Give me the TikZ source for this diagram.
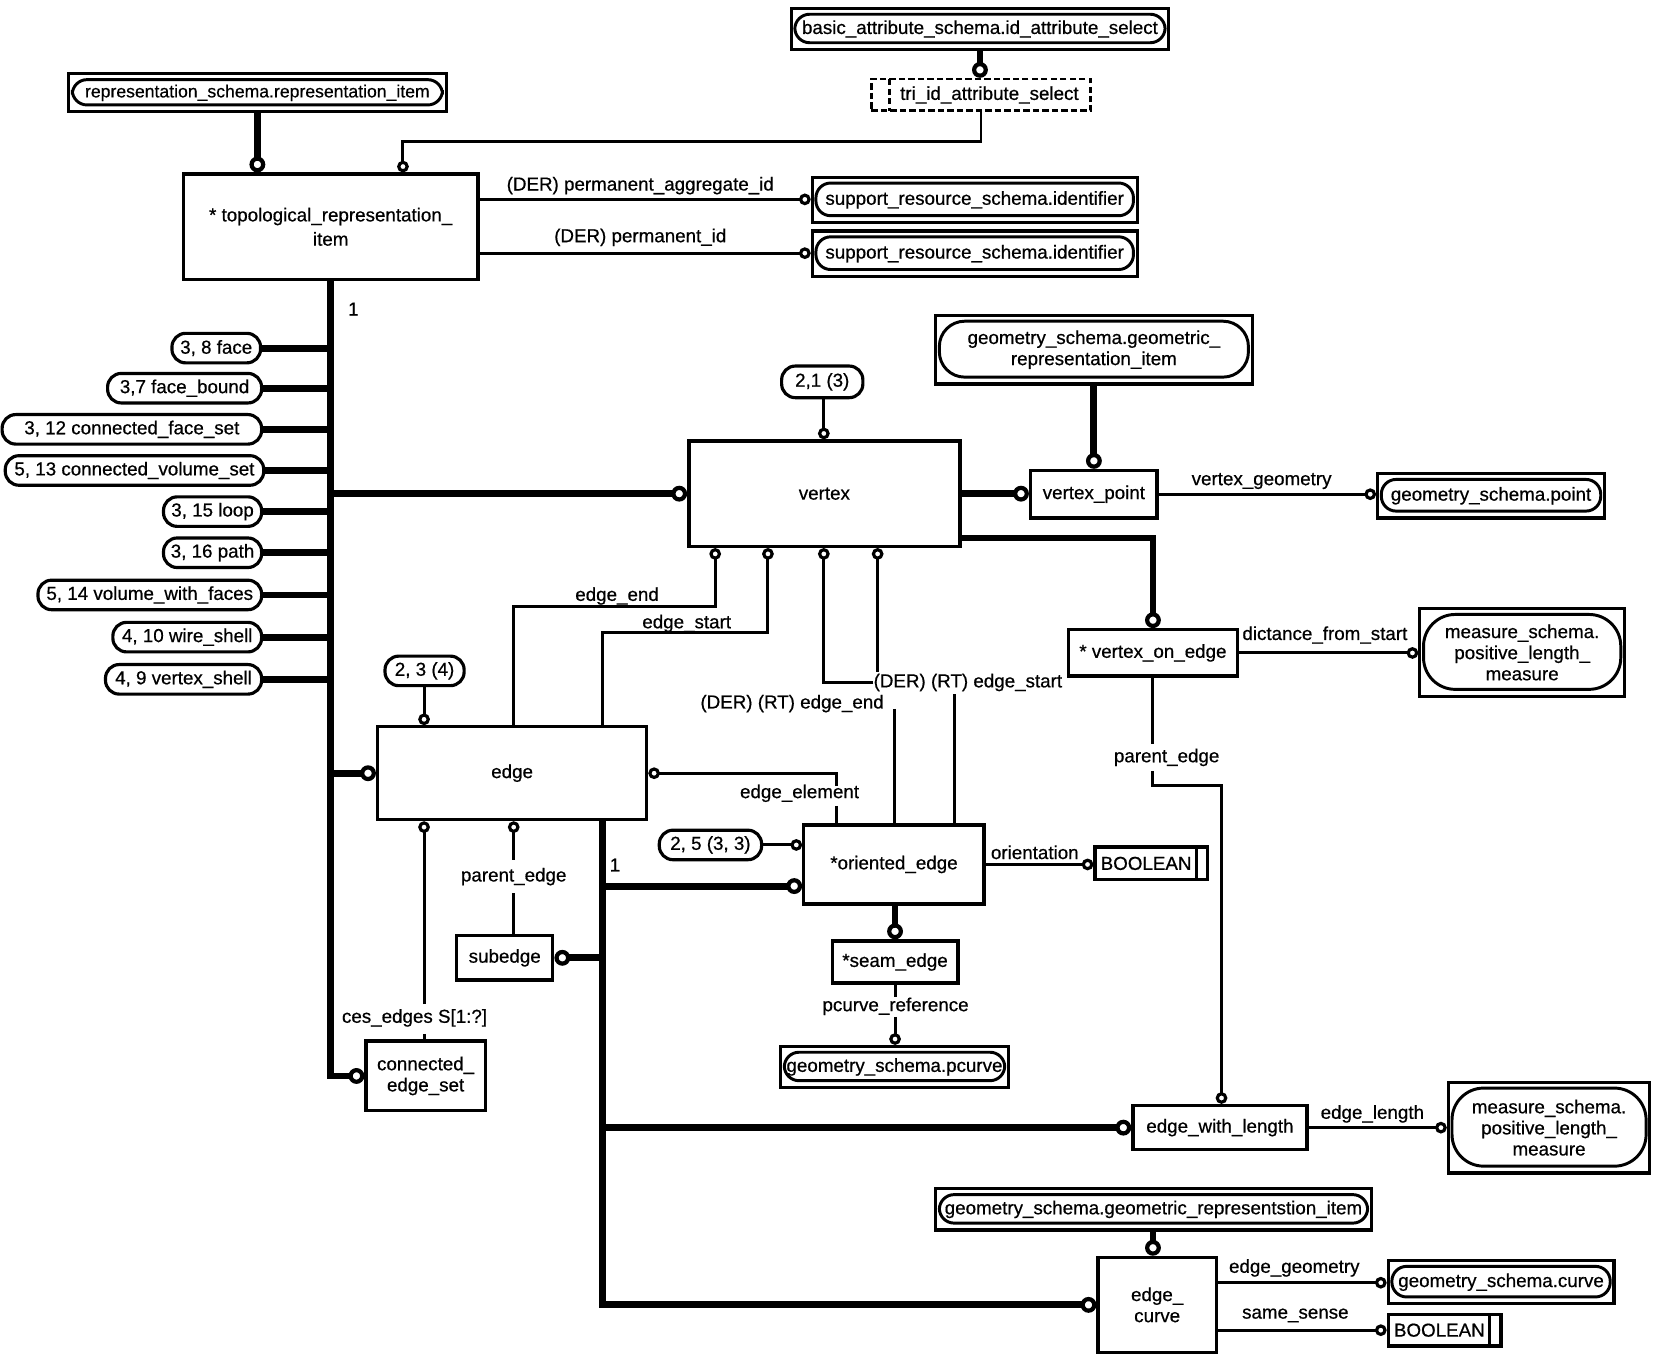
\documentclass[tikz,border=0pt]{standalone}
\usepackage{fontspec}
\newfontfamily\diafont{Liberation Sans}[FakeBold=0.6]
\usetikzlibrary{arrows.meta,calc}
\begin{document}
\begin{tikzpicture}[x=1bp,y=-1bp,
  font=\diafont\fontsize{17.8bp}{20bp}\selectfont,
  ent/.style={draw,line width=3.2bp,inner sep=0pt,align=center},
  pill/.style={draw,line width=3bp,rounded corners=13bp,inner sep=0pt,minimum height=28bp},
  sref/.style={draw,line width=3bp,inner sep=0pt,align=center,
    path picture={\draw[line width=2.8bp,rounded corners=#1]
      ([xshift=3.5bp,yshift=-5.5bp]path picture bounding box.north west) rectangle
      ([xshift=-3.5bp,yshift=6.5bp]path picture bounding box.south east);}},
  sref/.default=14bp,
  booltype/.style={draw,line width=3bp,inner sep=0pt,
    path picture={\draw[line width=2.5bp]
      ([xshift=-11bp]path picture bounding box.north east) --
      ([xshift=-11bp]path picture bounding box.south east);}},
  seltype/.style={draw,line width=2.5bp,dash pattern=on 6bp off 3bp,inner sep=0pt,
    path picture={\draw[line width=2.5bp,dash pattern=on 6bp off 3bp]
      ([xshift=17bp]path picture bounding box.north west) --
      ([xshift=17bp]path picture bounding box.south west);}},
  lbl/.style={inner sep=0pt},
  tl/.style={line width=2.8bp},
  tk/.style={line width=6.5bp},
  ct/.style={-{Circle[open,length=11bp,width=11bp,line width=3bp]}},
  cT/.style={-{Circle[open,length=15bp,width=15bp,line width=4bp]}}
]
\useasboundingbox (0,0) rectangle (1568,1287);

% ---------- nodes ----------
\node[sref,minimum width=358bp,minimum height=39bp] (basic) at (929,27.5) {basic\_attribute\_schema.id\_attribute\_select};
\node[seltype,minimum width=208bp,minimum height=30bp] (tri) at (930,90) {\hspace*{16bp}tri\_id\_attribute\_select};
\node[sref,minimum width=358bp,minimum height=36bp,font=\diafont\fontsize{16.7bp}{20bp}\selectfont] (rep) at (244,88) {representation\_schema.representation\_item};
\node[ent,minimum width=279bp,minimum height=100bp] (topo) at (313.5,215) {* topological\_representation\_\\[3bp]item};
\node[sref,minimum width=308bp,minimum height=43bp] (sup1) at (924,189.5) {support\_resource\_schema.identifier};
\node[sref,minimum width=308bp,minimum height=43bp] (sup2) at (924,240.5) {support\_resource\_schema.identifier};

\node[pill,minimum width=84bp] (p38) at (205,330) {3, 8 face};
\node[pill,minimum width=146bp] (p37) at (175,368) {3,7 face\_bound};
\node[pill,minimum width=246bp] (p312) at (125,407) {3, 12 connected\_face\_set};
\node[pill,minimum width=245bp] (p513) at (127.5,446) {5, 13 connected\_volume\_set};
\node[pill,minimum width=93bp] (p315) at (201.5,485) {3, 15 loop};
\node[pill,minimum width=93bp] (p316) at (201.5,524) {3, 16 path};
\node[pill,minimum width=212bp] (p514) at (142,564) {5, 14 volume\_with\_faces};
\node[pill,minimum width=141bp] (p410) at (177.5,604) {4, 10 wire\_shell};
\node[pill,minimum width=148bp] (p49) at (174,644) {4, 9 vertex\_shell};

\node[ent,minimum width=257bp,minimum height=100bp] (vertex) at (781.5,468) {vertex};
\node[pill,minimum width=77bp,minimum height=30bp] (p21) at (779.5,362) {2,1 (3)};
\node[sref=24bp,minimum width=300bp,minimum height=65bp] (geomrep) at (1037,331.5) {geometry\_schema.geometric\_\\representation\_item};
\node[ent,minimum width=120bp,minimum height=45bp] (vpoint) at (1037,468.5) {vertex\_point};
\node[sref,minimum width=215bp,minimum height=42bp] (gpoint) at (1413.5,470) {geometry\_schema.point};
\node[ent,minimum width=160bp,minimum height=44bp] (voe) at (1093,619) {* vertex\_on\_edge};
\node[sref=30bp,minimum width=194bp,minimum height=83bp] (meas1) at (1443,618.5) {measure\_schema.\\positive\_length\_\\measure};

\node[ent,minimum width=255bp,minimum height=88bp] (edge) at (485.5,733) {edge};
\node[pill,minimum width=75bp] (p23) at (402.5,636) {2, 3 (4)};
\node[ent,minimum width=171bp,minimum height=75bp] (oe) at (847.5,819.5) {*oriented\_edge};
\node[pill,minimum width=97bp] (p25) at (673.5,801) {2, 5 (3, 3)};
\node[booltype,minimum width=107bp,minimum height=31bp] (bool1) at (1091.5,818.5) {BOOLEAN\hspace*{10bp}};
\node[ent,minimum width=119bp,minimum height=40bp] (seam) at (848.5,912) {*seam\_edge};
\node[sref,minimum width=216bp,minimum height=39bp] (pcurve) at (848,1011.5) {geometry\_schema.pcurve};
\node[ent,minimum width=91bp,minimum height=42bp] (subedge) at (478.5,908) {subedge};
\node[ent,minimum width=113bp,minimum height=66bp] (ces) at (403.5,1020) {connected\_\\edge\_set};
\node[ent,minimum width=165bp,minimum height=42bp] (ewl) at (1156.5,1069) {edge\_with\_length};
\node[sref=30bp,minimum width=191bp,minimum height=86bp] (meas2) at (1468.5,1069) {measure\_schema.\\positive\_length\_\\measure};
\node[sref,minimum width=413bp,minimum height=39bp] (geomrep2) at (1093.5,1146.5) {geometry\_schema.geometric\_representstion\_item};
\node[ent,minimum width=112bp,minimum height=90bp] (ecurve) at (1097,1237) {edge\_\\curve};
\node[sref,minimum width=214bp,minimum height=41bp] (gcurve) at (1423,1215.5) {geometry\_schema.curve};
\node[booltype,minimum width=107bp,minimum height=30bp] (bool2) at (1369.5,1261) {BOOLEAN\hspace*{10bp}};

% ---------- labels ----------
\node[lbl] (l1) at (607,176) {(DER) permanent\_aggregate\_id};
\node[lbl] (l2) at (607,225) {(DER) permanent\_id};
\node[lbl] (l3) at (335,293) {1};
\node[lbl] (l4) at (585,565) {edge\_end};
\node[lbl] (l5) at (651,591) {edge\_start};
\node[lbl,anchor=west] (l6) at (828,647) {(DER) (RT) edge\_start};
\node[lbl,anchor=east] (l7) at (838,667) {(DER) (RT) edge\_end};
\node[lbl] (l8) at (1196,456) {vertex\_geometry};
\node[lbl] (l9) at (1256,602) {dictance\_from\_start};
\node[lbl] (l10) at (1106,718) {parent\_edge};
\node[lbl] (l11) at (758,752) {edge\_element};
\node[lbl] (l12) at (487,831) {parent\_edge};
\node[lbl] (l13) at (583,820) {1};
\node[lbl] (l14) at (981,808) {orientation};
\node[lbl] (l15) at (849,954) {pcurve\_reference};
\node[lbl] (l16) at (393,965) {ces\_edges S[1:?]};
\node[lbl] (l17) at (1301,1056) {edge\_length};
\node[lbl] (l18) at (1227,1202) {edge\_geometry};
\node[lbl] (l19) at (1228,1247) {same\_sense};

% ---------- connectors ----------
\draw[tk,cT] (basic.south) -- (basic.south |- tri.north);
\draw[tl,ct] (tri.south) -- (tri.south |- 0,134) -| (382,0 |- topo.north);
\draw[tk,cT] (rep.south) -- (rep.south |- topo.north);
\draw[tl,ct] (topo.east |- 0,189) -- (sup1.west |- 0,189);
\draw[tl,ct] (topo.east |- 0,240) -- (sup2.west |- 0,240);

\foreach \p in {p38,p37,p312,p513,p315,p316,p514,p410,p49}
  \draw[tk] (\p.east) -- (\p.east -| topo.south);
\draw[tk,cT] (topo.south) -- (topo.south |- ces.west) -- (ces.west);
\draw[tk,cT] (topo.south |- vertex.west) -- (vertex.west);
\draw[tk,cT] (topo.south |- edge.west) -- (edge.west);

\draw[tl,ct] (781,0 |- p21.south) -- (781,0 |- vertex.north);
\draw[tk,cT] (vertex.east) -- (vpoint.west |- vertex.east);
\draw[tk,cT] (geomrep.south) -- (vpoint.north);
\draw[tl,ct] (vpoint.east) -- (gpoint.west |- vpoint.east);
\draw[tk,cT] (vertex.east |- 0,510) -| (voe.north);
\draw[tl,ct] (voe.east) -- (meas1.west |- voe.east);
\draw[tl] (voe.south) -- (voe.south |- 0,705);
\draw[tl,ct] (voe.south |- 0,731) -- (voe.south |- 0,745) -| (ewl.north -| 1158,0);

\draw[tl,ct] (487,0 |- edge.north) -- (487,575) -| (678,0 |- vertex.south);
\draw[tl,ct] (571,0 |- edge.north) -- (571,600) -| (728,0 |- vertex.south);
\draw[tl,ct] (l6.west) -| (781,0 |- vertex.south);
\draw[tl,ct] (832,637) -- (832,0 |- vertex.south);
\draw[tl] (848,672) -- (848,0 |- oe.north);
\draw[tl] (905,658) -- (905,0 |- oe.north);

\draw[tl,ct] (402,0 |- p23.south) -- (402,0 |- edge.north);
\draw[tl,ct] (793,745) -- (793,0 |- edge.east) -- (edge.east);
\draw[tl] (793,764) -- (793,0 |- oe.north);
\draw[tl,ct] (402,952) -- (402,0 |- edge.south);
\draw[tl] (402,980) -- (402,0 |- ces.north);
\draw[tl,ct] (487,815) -- (487,0 |- edge.south);
\draw[tl] (487,847) -- (487,0 |- subedge.north);

\draw[tk,cT] (571,0 |- edge.south) -- (571,0 |- ecurve.west) -- (ecurve.west);
\draw[tk,cT] (571,840) -- (oe.west |- 0,840);
\draw[tk,cT] (571,0 |- subedge.east) -- (subedge.east);
\draw[tk,cT] (571,0 |- ewl.west) -- (ewl.west);
\draw[tl,ct] (p25.east) -- (oe.west |- p25.east);
\draw[tl,ct] (oe.east) -- (bool1.west |- oe.east);
\draw[tk,cT] (seam.north |- oe.south) -- (seam.north);
\draw[tl] (seam.south) -- (seam.south |- 0,945);
\draw[tl,ct] (seam.south |- 0,964) -- (seam.south |- pcurve.north);
\draw[tl,ct] (ewl.east) -- (meas2.west |- ewl.east);
\draw[tk,cT] (1093,0 |- geomrep2.south) -- (1093,0 |- ecurve.north);
\draw[tl,ct] (ecurve.east |- 0,1216) -- (gcurve.west |- 0,1216);
\draw[tl,ct] (ecurve.east |- 0,1261) -- (bool2.west |- 0,1261);
\end{tikzpicture}
\end{document}
